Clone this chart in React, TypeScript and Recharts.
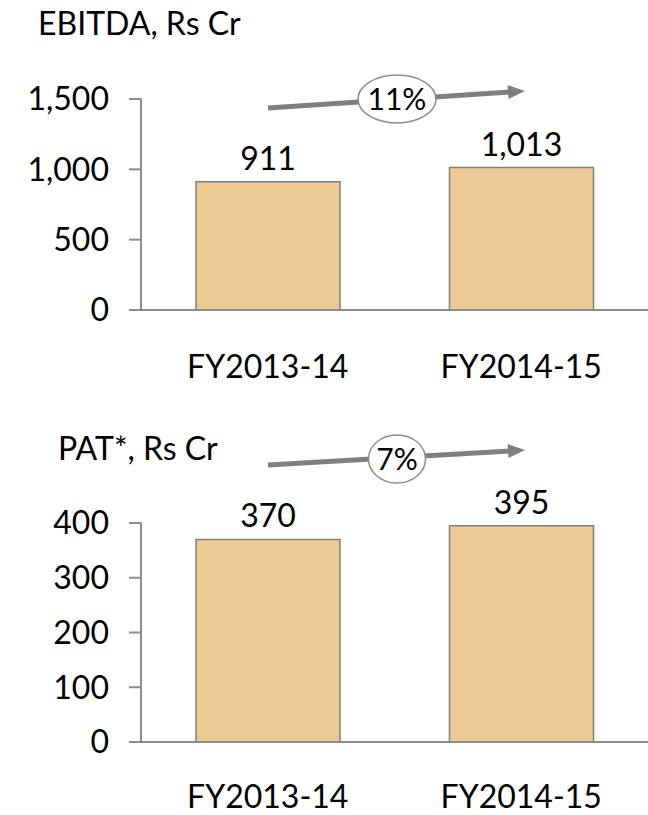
import React from 'react';
import { BarChart, Bar, XAxis, YAxis, LabelList } from 'recharts';

const categories = ['FY2013-14', 'FY2014-15'];
const ebitdaValues = [911, 1013];
const patValues = [370, 395];
const ebitdaTicks = [0, 500, 1000, 1500];
const patTicks = [0, 100, 200, 300, 400];
const ebitdaTitle = 'EBITDA, Rs Cr';
const patTitle = 'PAT*, Rs Cr';
const ebitdaGrowth = '11%';
const patGrowth = '7%';

const ebitdaData = categories.map((name, i) => ({ name, value: ebitdaValues[i] }));
const patData = categories.map((name, i) => ({ name, value: patValues[i] }));

const FONT = 'Lato, "Open Sans", sans-serif';
const fmt = (v: any) => Number(v).toLocaleString('en-US');

const BAR_FILL = '#EBCA96';
const BAR_STROKE = '#7F7F7F';
const AXIS = '#8C8C8C';

function Arrow({ x1, y1, x2, y2 }: { x1: number; y1: number; x2: number; y2: number }) {
  const dx = x2 - x1;
  const dy = y2 - y1;
  const len = Math.sqrt(dx * dx + dy * dy);
  const ux = dx / len;
  const uy = dy / len;
  const hl = 17;
  const hw = 7;
  const bx = x2 - ux * hl;
  const by = y2 - uy * hl;
  const px = -uy;
  const py = ux;
  return (
    <g>
      <line x1={x1} y1={y1} x2={bx + ux * 2} y2={by + uy * 2} stroke="#7F7F7F" strokeWidth={5} />
      <polygon
        points={`${x2},${y2} ${bx + px * hw},${by + py * hw} ${bx - px * hw},${by - py * hw}`}
        fill="#7F7F7F"
      />
    </g>
  );
}

function Chart({ data, ticks, max, top, height, marginTop, marginBottom, labelMargin }: any) {
  return (
    <div style={{ position: 'absolute', left: 0, top, width: 648, height }}>
      <BarChart
        width={648}
        height={height}
        data={data}
        margin={{ top: marginTop, right: 0, bottom: marginBottom, left: 0 }}
      >
        <XAxis
          dataKey="name"
          interval={0}
          axisLine={{ stroke: AXIS, strokeWidth: 2 }}
          tickLine={false}
          tickSize={0}
          tickMargin={labelMargin}
          height={60}
          tick={{ fontSize: 32, fill: '#000', fontFamily: FONT }}
        />
        <YAxis
          domain={[0, max]}
          ticks={ticks}
          interval={0}
          width={141}
          axisLine={{ stroke: AXIS, strokeWidth: 2 }}
          tickLine={{ stroke: AXIS, strokeWidth: 2 }}
          tickSize={12}
          tickMargin={20}
          tickFormatter={fmt}
          tick={{ fontSize: 32, fill: '#000', fontFamily: FONT }}
        />
        <Bar
          dataKey="value"
          fill={BAR_FILL}
          stroke={BAR_STROKE}
          strokeWidth={1.5}
          barSize={144}
          isAnimationActive={false}
        >
          <LabelList
            dataKey="value"
            position="top"
            offset={12}
            formatter={fmt}
            fill="#000"
            fontSize={32}
            fontFamily={FONT}
          />
        </Bar>
      </BarChart>
    </div>
  );
}

export default function App() {
  return (
    <div
      style={{
        position: 'absolute',
        left: 0,
        top: 0,
        width: 648,
        height: 815,
        background: '#fff',
        fontFamily: FONT,
        overflow: 'hidden',
      }}
    >
      <Chart data={ebitdaData} ticks={ebitdaTicks} max={1500} top={0} height={400} marginTop={99} marginBottom={30} labelMargin={45} />
      <Chart data={patData} ticks={patTicks} max={400} top={400} height={415} marginTop={123} marginBottom={13} labelMargin={43} />
      <svg
        width={648}
        height={815}
        style={{ position: 'absolute', left: 0, top: 0, pointerEvents: 'none' }}
      >
        <text x={38} y={35} fontSize={32} fill="#000" fontFamily={FONT}>
          {ebitdaTitle}
        </text>
        <text x={58} y={460} fontSize={32} fill="#000" fontFamily={FONT}>
          {patTitle}
        </text>
        <Arrow x1={268} y1={108} x2={525} y2={91} />
        <ellipse cx={397} cy={99} rx={39} ry={24} fill="#fff" stroke="#8C8C8C" strokeWidth={1.5} />
        <text x={397} y={99} dy="0.36em" textAnchor="middle" fontSize={30} fill="#000" fontFamily={FONT}>
          {ebitdaGrowth}
        </text>
        <Arrow x1={268} y1={465} x2={525} y2={450} />
        <ellipse cx={397} cy={459} rx={28.5} ry={24} fill="#fff" stroke="#8C8C8C" strokeWidth={1.5} />
        <text x={397} y={459} dy="0.36em" textAnchor="middle" fontSize={30} fill="#000" fontFamily={FONT}>
          {patGrowth}
        </text>
      </svg>
    </div>
  );
}
